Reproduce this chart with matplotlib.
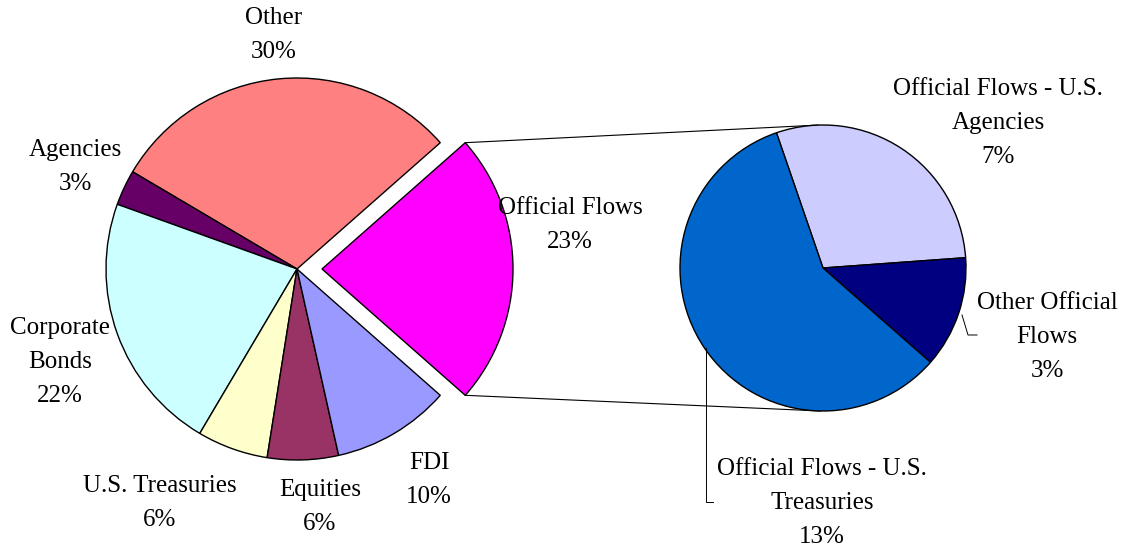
import numpy as np
import matplotlib.pyplot as plt

plt.rcParams['font.family'] = ['Liberation Serif', 'DejaVu Serif']

# main pie, counterclockwise starting with the split-off slice
main_labels = ['Official Flows', 'Other', 'Agencies', 'Corporate\nBonds',
               'U.S. Treasuries', 'Equities', 'FDI']
main_values = [23, 30, 3, 22, 6, 6, 10]
main_colors = ['#FF00FF', '#FF8080', '#660066', '#CCFFFF',
               '#FFFFCC', '#993366', '#9999FF']

# breakdown of official flows, clockwise
sub_labels = ['Official Flows - U.S.\nAgencies', 'Other Official\nFlows',
              'Official Flows - U.S.\nTreasuries']
sub_values = [6.7, 2.9, 13.4]
sub_colors = ['#CCCCFF', '#000080', '#0066CC']

W, H = 1126, 552


def py(y):
    # pixel row -> data y
    return H - y


fig = plt.figure(figsize=(W / 100, H / 100), dpi=100)
ax = fig.add_axes([0, 0, 1, 1])

total = sum(main_values)
main_c = (297, py(269))
main_r = 191
gap = 25
half = main_values[0] / total * 360 / 2
# explode is in data units here since radius is in pixels
explode = [gap] + [0] * (len(main_values) - 1)

ax.pie(main_values, colors=main_colors, startangle=-half, counterclock=True,
       center=main_c, radius=main_r, explode=explode, frame=True,
       wedgeprops=dict(edgecolor='black', linewidth=1.0))

sub_c = (823, py(268))
sub_r = 143
ax.pie(sub_values, colors=sub_colors, startangle=109, counterclock=False,
       center=sub_c, radius=sub_r, frame=True,
       wedgeprops=dict(edgecolor='black', linewidth=1.0))
ax.set_xlim(0, W)
ax.set_ylim(0, H)
ax.set_aspect('equal')
ax.axis('off')

# connector lines between exploded slice and the second pie
ex_c = (main_c[0] + gap, main_c[1])
for sgn, ang in [(1, 92), (-1, -91)]:
    a = np.radians(sgn * half)
    p0 = (ex_c[0] + main_r * np.cos(a), ex_c[1] + main_r * np.sin(a))
    b = np.radians(ang)
    p1 = (sub_c[0] + sub_r * np.cos(b), sub_c[1] + sub_r * np.sin(b))
    ax.plot([p0[0], p1[0]], [p0[1], p1[1]], color='black', lw=0.8, zorder=0)

# leader lines
ax.plot([962, 968, 977], [py(315), py(335), py(335)], color='black', lw=0.7)
ax.plot([706, 706, 713], [py(348), py(502), py(502)], color='black', lw=0.7)

main_pos = [(570, 225), (274, 35), (75, 167), (60, 362),
            (160, 503), (320, 507), (429, 480)]
sub_pos = [(998, 123), (1047, 337), (822, 503)]

for lab, v, (x, y) in zip(main_labels, main_values, main_pos):
    ax.text(x, py(y), f'{lab}\n{v / total * 100:.0f}%', ha='center',
            va='center', fontsize=18, linespacing=1.68)
for lab, v, (x, y) in zip(sub_labels, sub_values, sub_pos):
    ax.text(x, py(y), f'{lab}\n{v / total * 100:.0f}%', ha='center',
            va='center', fontsize=18, linespacing=1.68)

fig.savefig('out.png', dpi=100)
